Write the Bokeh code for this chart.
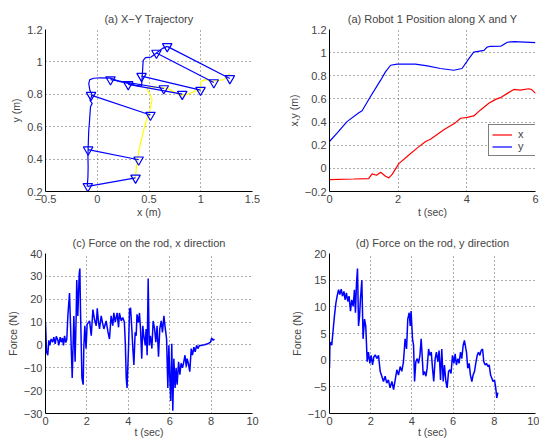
from bokeh.plotting import figure
from bokeh.layouts import column, row
from bokeh.models import Range1d, FixedTicker, Legend, LegendItem
from bokeh.embed import file_html
from bokeh.resources import INLINE

# ---------------- data ----------------
# (a) X-Y trajectory : robot 1 (blue) and robot 2 (yellow) paths
r1_x = [-0.097, -0.090, -0.088, -0.090, -0.088, -0.082, -0.075, -0.072, -0.065, -0.049,
        -0.062, -0.070, -0.049, -0.072, -0.082, -0.072, -0.033, 0.030, 0.128, 0.210,
        0.299, 0.370, 0.428, 0.432, 0.440, 0.444, 0.466, 0.520, 0.540, 0.572, 0.627, 0.676]
r1_y = [0.229, 0.290, 0.355, 0.410, 0.468, 0.580, 0.630, 0.662, 0.723, 0.744,
        0.755, 0.764, 0.795, 0.826, 0.867, 0.891, 0.899, 0.902, 0.900, 0.880,
        0.867, 0.855, 0.850, 0.887, 0.969, 1.010, 1.026, 1.030, 1.040, 1.055, 1.082, 1.096]
r2_x = [0.370, 0.375, 0.386, 0.400, 0.418, 0.450, 0.470, 0.498, 0.510, 0.530,
        0.514, 0.490, 0.483, 0.500, 0.550, 0.610, 0.660, 0.700, 0.740, 0.780,
        0.820, 0.870, 0.930, 0.966, 0.998, 0.998, 1.030, 1.060, 1.094, 1.150,
        1.190, 1.220, 1.255, 1.280]
r2_y = [0.284, 0.330, 0.396, 0.440, 0.500, 0.580, 0.630, 0.672, 0.710, 0.764,
        0.790, 0.820, 0.836, 0.845, 0.846, 0.842, 0.838, 0.830, 0.815, 0.800,
        0.795, 0.800, 0.815, 0.826, 0.836, 0.877, 0.887, 0.891, 0.877, 0.885,
        0.887, 0.890, 0.912, 0.928]
# rod snapshots (robot 1 end, robot 2 end)
rod_x1 = [-0.091, -0.088, -0.060, 0.128, 0.299, 0.428, 0.572, 0.676]
rod_y1 = [0.232, 0.458, 0.795, 0.891, 0.861, 0.912, 1.055, 1.096]
rod_x2 = [0.370, 0.400, 0.514, 0.643, 0.821, 0.998, 1.126, 1.281]
rod_y2 = [0.284, 0.396, 0.672, 0.836, 0.801, 0.826, 0.873, 0.898]

# (a) Robot 1 position along X and Y
t_posx = [0, 0.71, 1.14, 1.24, 1.37, 1.49, 1.63, 1.73, 1.83, 2.02, 2.26, 2.55, 2.80,
          2.94, 3.33, 3.67, 3.82, 4.01, 4.20, 4.40, 4.64, 4.84, 4.98, 5.18, 5.37,
          5.56, 5.80, 5.89, 6.0]
pos_x = [-0.097, -0.092, -0.088, -0.048, -0.060, -0.034, -0.068, -0.082, -0.050,
         0.041, 0.103, 0.175, 0.232, 0.252, 0.333, 0.395, 0.433, 0.441, 0.453,
         0.505, 0.562, 0.596, 0.611, 0.648, 0.682, 0.676, 0.688, 0.680, 0.648]
t_posy = [0, 0.22, 0.51, 0.855, 0.95, 1.19, 1.49, 1.63, 1.78, 1.97, 2.5, 2.85, 3.23,
          3.62, 3.86, 4.06, 4.20, 4.50, 4.59, 4.69, 5.0, 5.18, 5.38, 6.0]
pos_y = [0.232, 0.304, 0.404, 0.481, 0.498, 0.619, 0.762, 0.834, 0.891, 0.900, 0.900,
         0.885, 0.863, 0.848, 0.863, 0.948, 1.005, 1.020, 1.048, 1.055, 1.057, 1.090,
         1.096, 1.087]

# (c) force, x direction
t_fx = [0, 0.05, 0.11, 0.16, 0.21, 0.27, 0.35, 0.40, 0.47, 0.52, 0.60, 0.64, 0.71, 0.76,
        0.82, 0.87, 0.92, 0.98, 1.03, 1.08, 1.16, 1.29, 1.37, 1.43, 1.48, 1.51, 1.56,
        1.63, 1.66, 1.69, 1.76, 1.82, 1.85, 1.90, 1.96, 2.01, 2.13, 2.21, 2.29, 2.37,
        2.45, 2.50, 2.56, 2.61, 2.69, 2.77, 2.82, 2.93, 3.01, 3.09, 3.17, 3.25, 3.30,
        3.37, 3.46, 3.53, 3.57, 3.66, 3.73, 3.81, 3.86, 3.90, 3.94, 4.01, 4.06, 4.11,
        4.17, 4.22, 4.27, 4.33, 4.38, 4.42, 4.49, 4.54, 4.59, 4.65, 4.70, 4.75, 4.82,
        4.86, 4.91, 4.96, 5.01, 5.07, 5.14, 5.20, 5.27, 5.33, 5.39, 5.46, 5.52, 5.59,
        5.65, 5.72, 5.78, 5.85, 5.91, 5.96, 6.00, 6.05, 6.10, 6.15, 6.20, 6.26, 6.31,
        6.36, 6.43, 6.49, 6.55, 6.62, 6.68, 6.74, 6.80, 6.84, 6.90, 6.97, 7.04, 7.10,
        7.17, 7.23, 7.30, 7.36, 7.44, 7.55, 7.68, 7.84, 7.97, 8.03, 8.10, 8.16]
f_x = [9.8, -3, -4.5, 2, -0.2, 2.6, 1.2, 3.4, 0.5, 3.8, 2, -0.2, 3.4, 1.2,
       3, -0.2, 4, 1, 2.6, 12.7, 22.7, -14.5, 12.7, -7.4, 12, 28.4, 12.7,
       31.3, 33.4, 15.5, -14.5, -17.4, -1.6, 8.4, -1.6, 9, 10.5, 4, 15.5, 11,
       8.4, 16, 10, 7, 12.7, 9, 7, 10.5, 6, 2.6, 12.7, 8.4, 14,
       10, 14, 7.7, 14, 10.5, 12, 10, -0.2, -14.5, -18.8, -1.6, 15.5, 16.2,
       7, -1.6, -8.8, 5.5, 4, 13.4, 9.8, 14, 7, -6, 8.4, 4, -0.2,
       7, -4.5, 29.1, -0.2, 4, -1.6, 10.5, 7, 1.2, 8.4, -5.2, 7, 10.5,
       5.5, 12.7, 7.7, 2.6, -18.8, -0.2, -13, -24.5, 0.5, -28.8, -6, -18.8, -10,
       -17.4, -7.4, -13, -8, -10, -7.4, -4.5, -9.5, -6, -8, -11.7, -1.6, -4.5,
       -1, -3, -0.2, -1.6, -0.2, -0.2, 0.1, 0.5, 1.2, 3, 2, 2.6]

# (d) force, y direction
t_fy = [0, 0.02, 0.05, 0.11, 0.18, 0.24, 0.31, 0.37, 0.44, 0.50, 0.57, 0.63, 0.70, 0.76,
        0.82, 0.89, 0.95, 1.02, 1.08, 1.15, 1.21, 1.26, 1.31, 1.36, 1.41, 1.46, 1.50,
        1.57, 1.63, 1.70, 1.76, 1.83, 1.89, 1.96, 2.02, 2.09, 2.15, 2.22, 2.30, 2.38,
        2.46, 2.54, 2.62, 2.70, 2.78, 2.86, 2.94, 3.03, 3.11, 3.19, 3.27, 3.35, 3.43,
        3.51, 3.59, 3.67, 3.74, 3.80, 3.87, 3.92, 3.96, 4.03, 4.08, 4.13, 4.19, 4.26,
        4.32, 4.39, 4.45, 4.48, 4.55, 4.61, 4.68, 4.74, 4.81, 4.87, 4.94, 5.00, 5.06,
        5.13, 5.19, 5.26, 5.32, 5.39, 5.45, 5.52, 5.58, 5.65, 5.71, 5.78, 5.84, 5.90,
        5.97, 6.04, 6.10, 6.16, 6.23, 6.29, 6.36, 6.42, 6.49, 6.55, 6.62, 6.65, 6.71,
        6.78, 6.84, 6.91, 6.97, 7.04, 7.10, 7.17, 7.23, 7.30, 7.36, 7.43, 7.49, 7.56,
        7.62, 7.69, 7.75, 7.82, 7.88, 7.94, 8.01, 8.07, 8.12, 8.17]
f_y = [-1.5, 2.8, 3.4, 2.8, 5.8, 8.3, 10.7, 12, 13.2, 12.3, 13.3, 12, 12.9, 11.3,
       12.6, 11, 12, 9.2, 11.3, 10.1, 13.2, 8.9, 14.4, 17.2, 6.4, 8.3, 11.3,
       15, 4, 7.7, 6.4, -0.3, 1.5, -0.6, 0.9, -0.9, 0.6, 1, 0.3, 0.9,
       -2.1, -3, -4, -3, -4.3, -3.7, -5.2, -4, -5.5, -3.7, -1.8, -2.8, -1.2,
       -2.1, -0.3, 4, 2.1, 7.7, 8.9, 6.4, 9.2, 4, 2.8, -4, -0.3, 0.3,
       -0.6, 0.9, 4, 2.1, -2.8, -2.1, -3, -1.5, 2.1, 0.9, 1.5, -1.5, -4,
       0.3, 1.5, -0.3, 1.8, -3.7, 2.1, -4, -0.9, -4, -5.2, -2.1, -1.8, -2.5,
       0.9, -0.6, 1.2, -0.9, 0.3, -0.6, 1.5, 0.3, 2.8, 3.7, 2.1, 1.5, -1.5,
       -0.6, -2.8, -4, -2.8, -2.1, -0.6, 0.9, 1.5, 0.9, 1.8, 2.1, -0.3, -0.9,
       -0.6, -1.2, -0.9, -2.8, -3.4, -4, -3.7, -5.2, -7.1, -6.1]

# tick values and labels
xy_xticks = [-0.5, 0, 0.5, 1, 1.5]
xy_xlabels = ["\u22120.5", "0", "0.5", "1", "1.5"]
xy_yticks = [0.2, 0.4, 0.6, 0.8, 1, 1.2]
xy_ylabels = ["0.2", "0.4", "0.6", "0.8", "1", "1.2"]
pos_tticks = [0, 2, 4, 6]
pos_tlabels = ["0", "2", "4", "6"]
pos_yticks = [-0.2, 0, 0.2, 0.4, 0.6, 0.8, 1, 1.2]
pos_ylabels = ["\u22120.2", "0", "0.2", "0.4", "0.6", "0.8", "1", "1.2"]
f_tticks = [0, 2, 4, 6, 8, 10]
f_tlabels = ["0", "2", "4", "6", "8", "10"]
fx_yticks = [-30, -20, -10, 0, 10, 20, 30, 40]
fx_ylabels = ["\u221230", "\u221220", "\u221210", "0", "10", "20", "30", "40"]
fy_yticks = [-10, -5, 0, 5, 10, 15, 20]
fy_ylabels = ["\u221210", "\u22125", "0", "5", "10", "15", "20"]

FONT = "Liberation Sans"
BLUE = "#0000ff"


def make_fig(title, xr, yr, xticks, xlabels, yticks, ylabels, xlab, ylab,
             w, h, bl, br, bt, bb, xlab_standoff=0):
    p = figure(width=w, height=h, x_range=Range1d(*xr), y_range=Range1d(*yr),
               output_backend="svg", toolbar_location=None, title=title,
               min_border_left=bl, min_border_right=br,
               min_border_top=bt, min_border_bottom=bb)
    p.outline_line_color = None
    p.title.text_font = FONT
    p.title.text_font_size = "11px"
    p.title.text_font_style = "normal"
    p.title.align = "center"
    p.title.standoff = 10
    for ax, ticks, labels, lab in ((p.xaxis[0], xticks, xlabels, xlab),
                                   (p.yaxis[0], yticks, ylabels, ylab)):
        ax.ticker = FixedTicker(ticks=ticks)
        ax.major_label_overrides = {tk: lb for tk, lb in zip(ticks, labels)}
        ax.axis_label = lab
        ax.axis_label_text_font = FONT
        ax.axis_label_text_font_size = "10.5px"
        ax.axis_label_text_font_style = "normal"
        ax.axis_label_standoff = 0
        ax.major_label_text_font = FONT
        ax.major_label_text_font_size = "11px"
        ax.major_label_standoff = 3
        ax.major_tick_in = 0
        ax.major_tick_out = 0
        ax.minor_tick_in = 0
        ax.minor_tick_out = 0
        ax.axis_line_color = "black"
    p.xaxis[0].axis_label_standoff = xlab_standoff
    p.yaxis[0].axis_label_standoff = 2
    p.grid.grid_line_color = "#5a5a5a"
    p.grid.grid_line_dash = "1 3"
    p.grid.grid_line_width = 1
    return p


LW, RW = 270, 269
TH, BH = 220, 220

p1 = make_fig("(a) X\u2212Y Trajectory", (-0.5, 1.5), (0.2, 1.2),
              xy_xticks, xy_xlabels, xy_yticks, xy_ylabels, "x (m)", "y (m)",
              LW, TH, 45, 18, 29, 28)
p1.line(r2_x, r2_y, line_color="#ffff00", line_width=1.2)
p1.line(r1_x, r1_y, line_color=BLUE, line_width=1.2)
p1.segment(rod_x1, rod_y1, rod_x2, rod_y2, line_color=BLUE, line_width=1.2)
p1.scatter(rod_x1, rod_y1, marker="inverted_triangle", size=9.5, fill_color=None,
           line_color=BLUE, line_width=1.2)
p1.scatter(rod_x2, rod_y2, marker="inverted_triangle", size=9.5, fill_color=None,
           line_color=BLUE, line_width=1.2)

p2 = make_fig("(a) Robot 1 Position along X and Y", (0, 6), (-0.2, 1.2),
              pos_tticks, pos_tlabels, pos_yticks, pos_ylabels, "t (sec)", "x,y (m)",
              RW, TH, 59, 4, 29, 28)
lx = p2.line(t_posx, pos_x, line_color="#ff0000", line_width=1.2)
ly = p2.line(t_posy, pos_y, line_color=BLUE, line_width=1.2)
fw2 = RW - 59 - 4
leg = Legend(items=[LegendItem(label="x", renderers=[lx]),
                    LegendItem(label="y", renderers=[ly])],
             location=(fw2 - 47, 35))
leg.border_line_color = "black"
leg.border_line_width = 1
leg.label_text_font = FONT
leg.label_text_font_size = "11px"
leg.label_height = 11
leg.label_width = 15
leg.glyph_height = 11
leg.glyph_width = 20
leg.spacing = 0
leg.padding = 3
leg.margin = 0
leg.label_standoff = 6
p2.add_layout(leg)

p3 = make_fig("(c) Force on the rod, x direction", (0, 10), (-30, 40),
              f_tticks, f_tlabels, fx_yticks, fx_ylabels, "t (sec)", "Force (N)",
              LW, BH, 45, 18, 33, 24, xlab_standoff=-2)
p3.line(t_fx, f_x, line_color=BLUE, line_width=1.5)

p4 = make_fig("(d) Force on the rod, y direction", (0, 10), (-10, 20),
              f_tticks, f_tlabels, fy_yticks, fy_ylabels, "t (sec)", "Force (N)",
              RW, BH, 59, 4, 33, 24, xlab_standoff=-2)
p4.line(t_fy, f_y, line_color=BLUE, line_width=1.5)

layout = column(row(p1, p2), row(p3, p4))
open("out.html", "w").write(file_html(layout, INLINE))
